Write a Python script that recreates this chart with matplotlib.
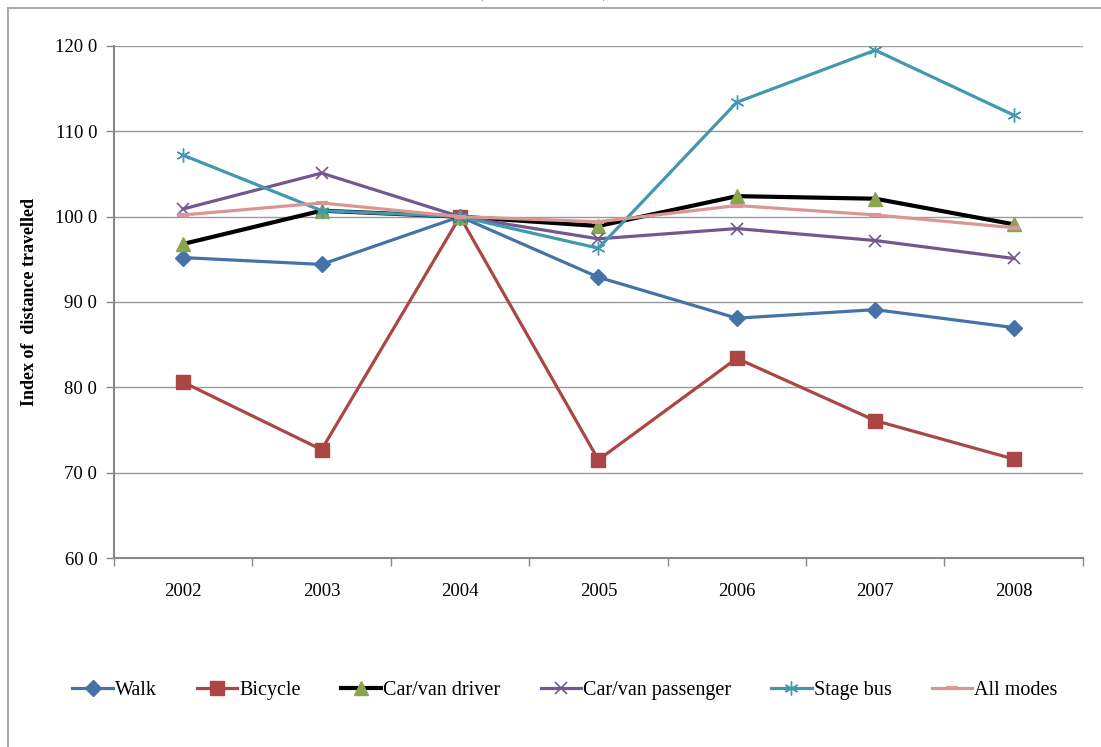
import matplotlib
matplotlib.use("Agg")
import matplotlib.pyplot as plt
from matplotlib.lines import Line2D

years = ["2002", "2003", "2004", "2005", "2006", "2007", "2008"]
walk = [95.2, 94.4, 100.0, 92.9, 88.1, 89.1, 87.0]
bicycle = [80.6, 72.7, 100.0, 71.5, 83.4, 76.1, 71.6]
car_driver = [96.8, 100.7, 100.0, 98.9, 102.4, 102.1, 99.1]
car_passenger = [100.9, 105.1, 100.0, 97.4, 98.6, 97.2, 95.1]
stage_bus = [107.2, 100.7, 100.0, 96.3, 113.4, 119.5, 111.9]
all_modes = [100.2, 101.6, 100.0, 99.4, 101.3, 100.2, 98.7]
y_ticks = [60, 70, 80, 90, 100, 110, 120]
y_tick_labels = ["60 0", "70 0", "80 0", "90 0", "100 0", "110 0", "120 0"]

plt.rcParams["font.family"] = ["Liberation Serif", "DejaVu Serif"]

fig = plt.figure(figsize=(11.01, 7.47), dpi=100)
ax = fig.add_axes([0.1035, 0.253, 0.880, 0.6855])

x = list(range(len(years)))

series = [
    ("Walk", walk, dict(color="#4572A7", lw=2.3, marker="D", ms=8.5,
                        mfc="#4572A7", mec="#4572A7")),
    ("Bicycle", bicycle, dict(color="#AA4643", lw=2.3, marker="s", ms=9.5,
                              mfc="#AA4643", mec="#AA4643")),
    ("Car/van driver", car_driver, dict(color="black", lw=3.0, marker="^", ms=10,
                                        mfc="#89A54E", mec="#89A54E")),
    ("Car/van passenger", car_passenger, dict(color="#71588F", lw=2.3, marker="x", ms=9,
                                              mew=1.2, mfc="#71588F", mec="#71588F")),
    ("Stage bus", stage_bus, dict(color="#4198AF", lw=2.3, marker=(6, 2, 0), ms=10,
                                  mew=1.0, mfc="#4198AF", mec="#4198AF")),
    ("All modes", all_modes, dict(color="#D99694", lw=2.3, marker="_", ms=9,
                                  mew=3, mfc="#D99694", mec="#D99694")),
]

for name, vals, style in series:
    ax.plot(x, vals, label=name, solid_joinstyle="round", **style)

ax.set_xlim(-0.5, len(years) - 0.5)
ax.set_ylim(60, 120)
ax.set_yticks(y_ticks)
ax.set_yticklabels(y_tick_labels, fontsize=13.5)
ax.yaxis.grid(True, color="#9a9a9a", lw=1.0)
ax.set_axisbelow(True)

ax.set_xticks(x)
ax.set_xticklabels(years, fontsize=13.5)
ax.set_xticks([i - 0.5 for i in range(len(years) + 1)], minor=True)
ax.tick_params(axis="x", which="major", length=0, pad=18)
ax.tick_params(axis="x", which="minor", length=6, color="#888888", width=1)
ax.tick_params(axis="y", length=6, color="#888888", width=1, pad=6)

for side in ("top", "right"):
    ax.spines[side].set_visible(False)
for side in ("left", "bottom"):
    ax.spines[side].set_color("#888888")
    ax.spines[side].set_linewidth(1.5)

ax.set_ylabel("Index of  distance travelled", fontsize=13, fontweight="bold", labelpad=12)

handles, labels = ax.get_legend_handles_labels()
fig.legend(handles, labels, loc="center", bbox_to_anchor=(0.513, 1 - 690 / 747),
           ncol=6, frameon=False, fontsize=14.5, handlelength=2.0, handletextpad=0.1,
           columnspacing=2.0)

# outer chart frame
fig.add_artist(Line2D([8 / 1101, 8 / 1101], [0, 1 - 8 / 747], color="#999999", lw=1.2,
                      transform=fig.transFigure))
fig.add_artist(Line2D([8 / 1101, 1], [1 - 8 / 747, 1 - 8 / 747], color="#999999", lw=1.2,
                      transform=fig.transFigure))

# title, mostly above the top edge
fig.text(477 / 1101, 1 + 16 / 747, "(", fontsize=26, ha="center", va="center")
fig.text(608 / 1101, 1 + 16 / 747, ")", fontsize=26, ha="center", va="center")

fig.savefig("out.png", dpi=100)
